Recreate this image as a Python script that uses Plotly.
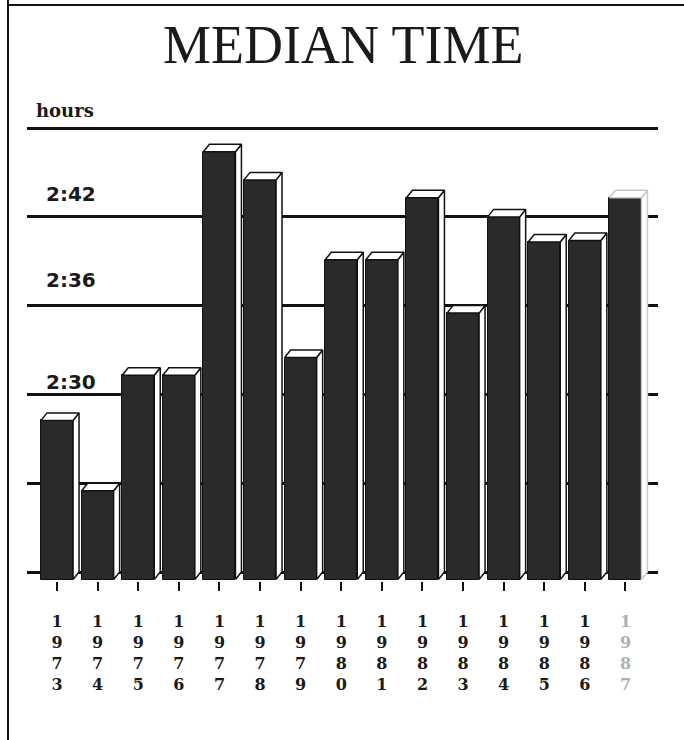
import plotly.graph_objects as go

# ---- data ----
years = [1973, 1974, 1975, 1976, 1977, 1978, 1979, 1980, 1981, 1982, 1983, 1984, 1985, 1986, 1987]
# median time in minutes (2:30 = 150)
median_minutes = [148.75, 144.0, 151.8, 151.8, 166.9, 165.0, 153.0, 159.6, 159.6, 163.8, 156.0, 162.5, 160.8, 160.9, 163.8]
grid_values = [138, 144, 150, 156, 162, 168]
label_values = [162, 156, 150]
label_texts = ["2:42", "2:36", "2:30"]

# ---- geometry / style ----
W_PX, H_PX = 684, 740
X_LEFT_PX, X_RIGHT_PX = 27, 658
Y_TOP_PX, Y_BOT_PX = 118, 581
BASE_PX = 572
PX_PER_MIN = 14.8
PX_PER_CAT = 40.6
BASE = 138.0
X0 = -0.74
W = 32 / PX_PER_CAT          # front face width
DX = 6 / PX_PER_CAT          # depth in x
DY = 7.5 / PX_PER_MIN        # depth in y

y_lo = BASE - (Y_BOT_PX - BASE_PX) / PX_PER_MIN
y_hi = BASE + (BASE_PX - Y_TOP_PX) / PX_PER_MIN
x_lo = X0
x_hi = X0 + (X_RIGHT_PX - X_LEFT_PX) / PX_PER_CAT

DARK = "#2a2a2a"
INK = "#111111"
FADE = "#c8c8c8"

xs = list(range(len(years)))

fig = go.Figure()

# front faces
fig.add_trace(go.Bar(
    x=xs,
    y=[v - BASE for v in median_minutes],
    base=BASE - DY,
    width=W,
    marker=dict(color=DARK, line=dict(color=INK, width=1)),
    hoverinfo="skip",
    showlegend=False,
))

# top caps and side faces
for i, v in zip(xs, median_minutes):
    xl, xr = i - W / 2, i + W / 2
    col = FADE if years[i] == 1987 else INK
    cap_x = [xl, xl + DX, xr + DX, xr, xl]
    cap_y = [v - DY, v, v, v - DY, v - DY]
    side_x = [xr, xr + DX, xr + DX, xr, xr]
    side_y = [BASE - DY, BASE, v, v - DY, BASE - DY]
    for px, py in ((side_x, side_y), (cap_x, cap_y)):
        fig.add_trace(go.Scatter(
            x=px, y=py, mode="lines", fill="toself",
            fillcolor="white", line=dict(color=col, width=1.5),
            hoverinfo="skip", showlegend=False,
        ))

tick_text = []
for yv in years:
    t = "<br>".join(str(yv))
    if yv == 1987:
        t = "<span style='color:#b0b0b0'>" + t + "</span>"
    tick_text.append("<b>" + t + "</b>")

fig.update_layout(
    width=W_PX, height=H_PX,
    margin=dict(l=0, r=0, t=0, b=0),
    paper_bgcolor="white", plot_bgcolor="white",
    showlegend=False,
    bargap=0,
    xaxis=dict(
        domain=[X_LEFT_PX / W_PX, X_RIGHT_PX / W_PX],
        range=[x_lo, x_hi],
        tickmode="array", tickvals=xs, ticktext=tick_text,
        ticks="outside", ticklen=9, tickwidth=1.5, tickcolor=INK,
        showgrid=False, zeroline=False, showline=False,
        tickfont=dict(family="DejaVu Serif", size=16, color="#1a1a1a"),
        ticklabelstandoff=17,
        fixedrange=True,
    ),
    yaxis=dict(
        domain=[(H_PX - Y_BOT_PX) / H_PX, (H_PX - Y_TOP_PX) / H_PX],
        range=[y_lo, y_hi],
        tickmode="array", tickvals=grid_values,
        showticklabels=False, ticks="",
        showgrid=True, gridcolor=INK, gridwidth=2.5,
        zeroline=False, showline=False,
        fixedrange=True,
    ),
)

# title
fig.add_annotation(
    text="MEDIAN TIME", xref="paper", yref="paper",
    x=343 / W_PX, y=1 - 13 / H_PX, xanchor="center", yanchor="top",
    showarrow=False,
    font=dict(family="Liberation Serif", size=54, color="#1a1a1a"),
)
# unit label
fig.add_annotation(
    text="<b>hours</b>", xref="paper", yref="paper",
    x=34 / W_PX, y=1 - 123 / H_PX, xanchor="left", yanchor="bottom",
    showarrow=False,
    font=dict(family="DejaVu Serif", size=18, color="#1a1a1a"),
)
# y labels above gridlines
gaps = [13, 16, 2]
for val, txt, g in zip(label_values, label_texts, gaps):
    fig.add_annotation(
        text="<b>" + txt + "</b>", xref="paper", yref="y",
        x=44 / W_PX, y=val, xanchor="left", yanchor="bottom",
        yshift=g - 4, showarrow=False,
        font=dict(family="DejaVu Sans", size=20, color="#1a1a1a"),
    )

# frame lines
fig.add_shape(type="line", xref="paper", yref="paper",
              x0=8 / W_PX, x1=8 / W_PX, y0=0, y1=1,
              line=dict(color=INK, width=2))
fig.add_shape(type="line", xref="paper", yref="paper",
              x0=8 / W_PX, x1=1, y0=1 - 5 / H_PX, y1=1 - 5 / H_PX,
              line=dict(color=INK, width=2))

fig.write_html("out.html", config={"displayModeBar": False},
               post_script="document.body.style.margin='0';")
